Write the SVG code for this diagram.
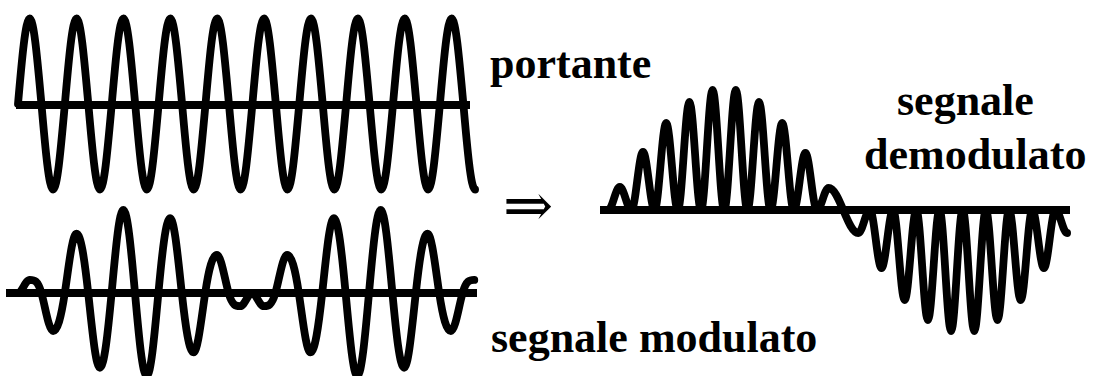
<svg xmlns="http://www.w3.org/2000/svg" width="1093" height="376" viewBox="0 0 1093 376">
<style>
.axis{stroke:#000;stroke-width:8;fill:none}
.wave{fill:none;stroke:#000;stroke-width:7.8;stroke-linejoin:round;stroke-linecap:round}
.lbl{font-family:"Liberation Serif","Times New Roman",serif;font-weight:bold;font-size:44px;fill:#000}
.sym{font-family:"DejaVu Serif","Liberation Serif",serif;font-size:60px;fill:#000}
</style>
<rect width="1093" height="376" fill="#fff"/>
<g id="carrier">
<line class="axis" x1="16" y1="105" x2="470" y2="105"/>
<path class="wave" d="M18,104 c3.82,-43.8 7.48,-85.5 11.72,-85.5 c4.24,0 7.9,43.8 11.72,85.5 c3.82,43.8 7.48,85.5 11.72,85.5 c4.24,0 7.9,-43.8 11.72,-85.5 c3.82,-43.8 7.48,-85.5 11.72,-85.5 c4.24,0 7.9,43.8 11.72,85.5 c3.82,43.8 7.48,85.5 11.72,85.5 c4.24,0 7.9,-43.8 11.72,-85.5 c3.82,-43.8 7.48,-85.5 11.72,-85.5 c4.24,0 7.9,43.8 11.72,85.5 c3.82,43.8 7.48,85.5 11.72,85.5 c4.24,0 7.9,-43.8 11.72,-85.5 c3.82,-43.8 7.48,-85.5 11.72,-85.5 c4.24,0 7.9,43.8 11.72,85.5 c3.82,43.8 7.48,85.5 11.72,85.5 c4.24,0 7.9,-43.8 11.72,-85.5 c3.82,-43.8 7.48,-85.5 11.72,-85.5 c4.24,0 7.9,43.8 11.72,85.5 c3.82,43.8 7.48,85.5 11.72,85.5 c4.24,0 7.9,-43.8 11.72,-85.5 c3.82,-43.8 7.48,-85.5 11.72,-85.5 c4.24,0 7.9,43.8 11.72,85.5 c3.82,43.8 7.48,85.5 11.72,85.5 c4.24,0 7.9,-43.8 11.72,-85.5 c3.82,-43.8 7.48,-85.5 11.72,-85.5 c4.24,0 7.9,43.8 11.72,85.5 c3.82,43.8 7.48,85.5 11.72,85.5 c4.24,0 7.9,-43.8 11.72,-85.5 c3.82,-43.8 7.48,-85.5 11.72,-85.5 c4.24,0 7.9,43.8 11.72,85.5 c3.82,43.8 7.48,85.5 11.72,85.5 c4.24,0 7.9,-43.8 11.72,-85.5 c3.82,-43.8 7.48,-85.5 11.72,-85.5 c4.24,0 7.9,43.8 11.72,85.5 c3.82,43.8 7.48,85.5 11.72,85.5 c4.24,0 7.9,-43.8 11.72,-85.5 c3.82,-43.8 7.48,-85.5 11.72,-85.5 c4.24,0 7.9,43.8 11.72,85.5 c3.82,43.8 7.48,85.5 11.72,85.5"/>
</g>
<g id="modulated">
<line class="axis" x1="6" y1="293" x2="477" y2="293"/>
<path class="wave" d="M18,293 c3.82,0 7.46,-13.1 11.7,-13.1 c4.24,0 7.88,-0.2 11.7,13.1 c3.82,13.3 7.46,38.1 11.7,38.1 c4.24,0 7.88,-12.8 11.7,-38.1 c3.82,-25.3 7.46,-59.4 11.7,-59.4 c4.24,0 7.88,24.6 11.7,59.4 c3.82,34.8 7.46,74.8 11.7,74.8 c4.24,0 7.88,-33.9 11.7,-74.8 c3.82,-40.9 7.46,-83 11.7,-83 c4.24,0 7.88,40 11.7,83 c3.82,43 7.46,83 11.7,83 c4.24,0 7.88,-42.1 11.7,-83 c3.82,-40.9 7.46,-74.8 11.7,-74.8 c4.24,0 7.88,40 11.7,74.8 c3.82,34.8 7.46,59.4 11.7,59.4 c4.24,0 7.88,-34.1 11.7,-59.4 c3.82,-25.3 7.46,-38.1 11.7,-38.1 c4.24,0 7.88,24.8 11.7,38.1 c3.82,13.3 7.46,13.1 11.7,13.1 c4.24,0 7.88,-13.1 11.7,-13.1 c3.82,0 7.46,13.1 11.7,13.1 c4.24,0 7.88,0.2 11.7,-13.1 c3.82,-13.3 7.46,-38.1 11.7,-38.1 c4.24,0 7.88,12.8 11.7,38.1 c3.82,25.3 7.46,59.4 11.7,59.4 c4.24,0 7.88,-24.6 11.7,-59.4 c3.82,-34.8 7.46,-74.8 11.7,-74.8 c4.24,0 7.88,33.9 11.7,74.8 c3.82,40.9 7.46,83 11.7,83 c4.24,0 7.88,-40 11.7,-83 c3.82,-43 7.46,-83 11.7,-83 c4.24,0 7.88,42.1 11.7,83 c3.82,40.9 7.46,74.8 11.7,74.8 c4.24,0 7.88,-40 11.7,-74.8 c3.82,-34.8 7.46,-59.4 11.7,-59.4 c4.24,0 7.88,34.1 11.7,59.4 c3.82,25.3 7.46,38.1 11.7,38.1 c4.24,0 7.88,-24.8 11.7,-38.1 c3.82,-13.3 7.46,-13.1 11.7,-13.1"/>
</g>
<g id="demodulated">
<line class="axis" x1="600" y1="210" x2="1070" y2="210"/>
<path class="wave" d="M608.2,210 C612.4,210 615.6,187 619.8,187 C624,187 627.2,210 631.4,210 C635.6,210 638.8,152 643,152 C647.2,152 650.4,210 654.6,210 C658.8,210 662,123 666.2,123 C670.4,123 673.6,210 677.8,210 C682,210 685.2,102 689.4,102 C693.6,102 696.8,210 701,210 C705.2,210 708.4,90 712.6,90 C716.8,90 720,210 724.2,210 C728.4,210 731.6,90 735.8,90 C740,90 743.2,210 747.4,210 C751.6,210 754.8,102 759,102 C763.2,102 766.4,210 770.6,210 C774.8,210 778,123 782.2,123 C786.4,123 789.6,210 793.8,210 C798,210 801.2,153 805.4,153 C809.6,153 812.8,210 817,210 C821.2,210 824.4,188 828.6,188 C839.5,188 847.4,233 858.3,233 C862.5,233 865.7,210 869.9,210 C874.1,210 877.3,268 881.5,268 C885.7,268 888.9,210 893.1,210 C897.3,210 900.5,300 904.7,300 C908.9,300 912.1,210 916.3,210 C920.5,210 923.7,320 927.9,320 C932.1,320 935.3,210 939.5,210 C943.7,210 946.9,331 951.1,331 C955.3,331 958.5,210 962.7,210 C966.9,210 970.1,331 974.3,331 C978.5,331 981.7,210 985.9,210 C990.1,210 993.3,320 997.5,320 C1001.7,320 1004.9,210 1009.1,210 C1013.3,210 1016.5,300 1020.7,300 C1024.9,300 1028.1,210 1032.3,210 C1036.5,210 1039.7,268 1043.9,268 C1048.1,268 1051.3,210 1055.5,210 C1059.7,210 1062.9,233 1067.1,233"/>
</g>
<g id="arrow">
<text class="sym" x="503" y="226">⇒</text>
</g>
<g id="labels">
<text class="lbl" x="490" y="78">portante</text>
<text class="lbl" x="491" y="352">segnale modulato</text>
<text class="lbl" x="897" y="115">segnale</text>
<text class="lbl" x="864" y="169">demodulato</text>
</g>
</svg>
